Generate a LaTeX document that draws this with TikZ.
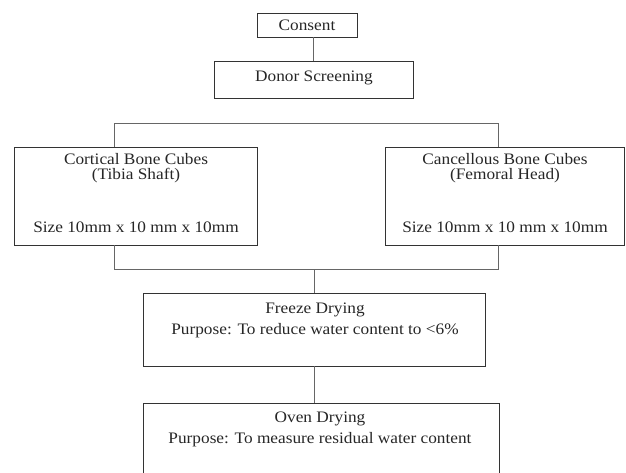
\documentclass[tikz,border=0pt]{standalone}
\usepackage{fontspec}
\setmainfont{Liberation Serif}[FakeStretch=1.08]
\begin{document}
\begin{tikzpicture}[x=1pt,y=-1pt,
  box/.style={draw=black!80, line width=0.9pt, rectangle, inner sep=0pt},
  conn/.style={draw=black!60, line width=0.9pt},
  txt/.style={anchor=base, inner sep=0pt, text=black!85, font=\fontsize{16}{19}\selectfont}]
\useasboundingbox (0,0) rectangle (626,473);
\clip (0,0) rectangle (626,473);
% boxes
\node[box, minimum width=100pt, minimum height=24pt] (consent) at (307,25) {};
\node[box, minimum width=199pt, minimum height=37pt] (donor) at (313.5,79.5) {};
\node[box, minimum width=243pt, minimum height=98pt] (cort) at (135.5,196) {};
\node[box, minimum width=239pt, minimum height=98pt] (canc) at (504.5,196) {};
\node[box, minimum width=342pt, minimum height=73pt] (freeze) at (314,329.5) {};
\node[box, minimum width=356pt, minimum height=80pt] (oven) at (321,443) {};
% texts
\node[txt] (consentT) at (307,31) {Consent};
\node[txt] (donorT) at (314,82) {Donor Screening};
\node[txt] (cortA) at (136,165) {Cortical Bone Cubes};
\node[txt] (cortB) at (136,180) {(Tibia Shaft)};
\node[txt] (cortC) at (136,233) {Size 10mm x 10 mm x 10mm};
\node[txt] (cancA) at (505,165) {Cancellous Bone Cubes};
\node[txt] (cancB) at (505,180) {(Femoral Head)};
\node[txt] (cancC) at (505,233) {Size 10mm x 10 mm x 10mm};
\node[txt] (freezeA) at (315,313) {Freeze Drying};
\node[txt] (freezeB) at (315,334) {Purpose: To reduce water content to <6\%};
\node[txt] (ovenA) at (320,422) {Oven Drying};
\node[txt] (ovenB) at (320,443) {Purpose: To measure residual water content};
% connector coordinates
\coordinate (topL) at (114,123);
\coordinate (topR) at (498,123);
\coordinate (botL) at (114,269);
\coordinate (botR) at (498,269);
\coordinate (botM) at (314,269);
% connectors
\draw[conn] (donor.north) -- (donor.north |- consent.south);
\draw[conn] (cort.north -| topL) -- (topL) -- (topR) -- (canc.north -| topR);
\draw[conn] (cort.south -| botL) -- (botL) -- (botR) -- (canc.south -| botR);
\draw[conn] (botM) -- (freeze.north -| botM);
\draw[conn] (freeze.south -| botM) -- (oven.north -| botM);
\end{tikzpicture}
\end{document}
